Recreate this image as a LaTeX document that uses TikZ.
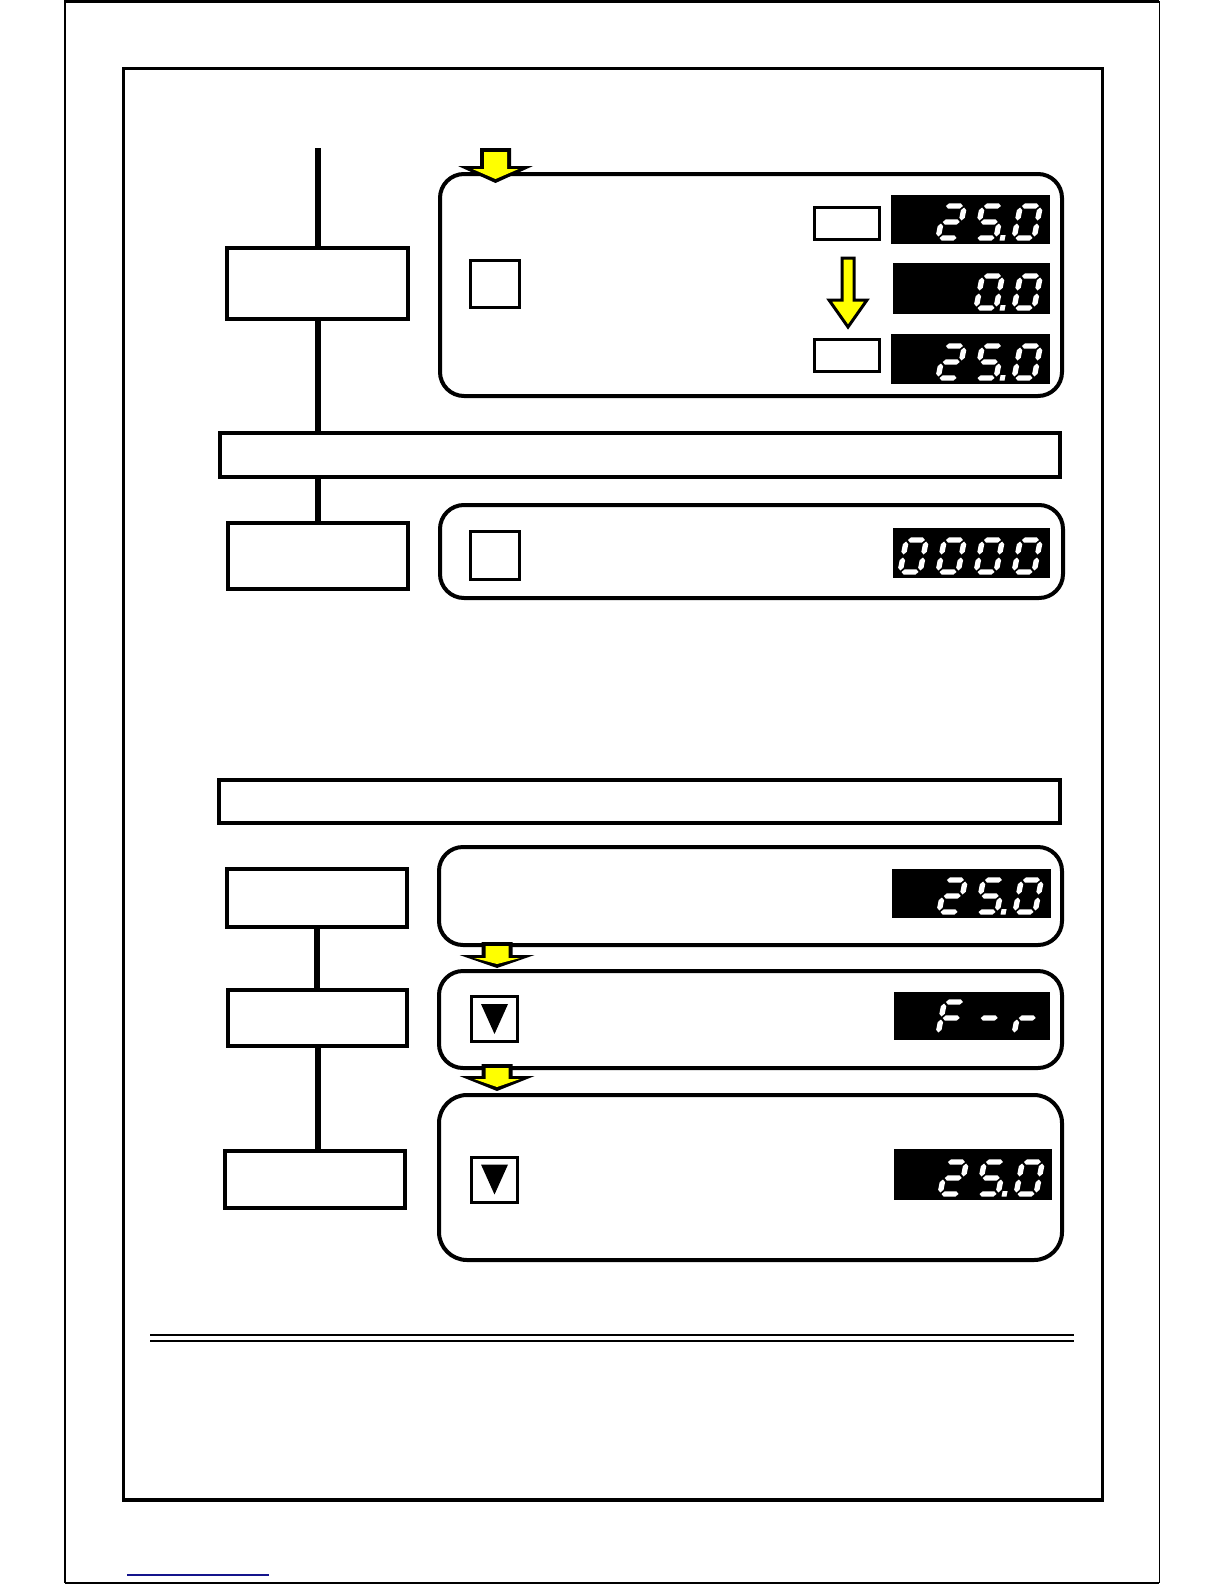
\documentclass[tikz,border=0pt]{standalone}
\definecolor{arrowyellow}{RGB}{255,255,0}
\definecolor{linkblue}{RGB}{20,20,140}
\tikzset{
  stepbox/.style={draw, line width=2pt, rectangle, inner sep=0pt, outer sep=0pt, fill=white},
  panel/.style={draw, line width=2pt, rectangle, rounded corners=12pt, inner sep=0pt, outer sep=0pt},
  keybox/.style={draw, line width=1.5pt, rectangle, inner sep=0pt, outer sep=0pt},
  ledbox/.style={fill=black, rectangle, inner sep=0pt, outer sep=0pt},
  conn/.style={line width=3pt},
  yarrow/.style={fill=arrowyellow, draw=black, line width=1.5pt, line join=miter},
}
% seven-segment helpers (pixel units, v downwards)
\newcommand\hsg[1]{\fill[white] (1.5,#1) -- (4.2,#1-2.7) -- (15.8,#1-2.7) -- (18.5,#1) -- (15.8,#1+2.7) -- (4.2,#1+2.7) -- cycle;}
\newcommand\vsg[3]{\fill[white] (#1,#2+1.5) -- (#1+2.7,#2+4.2) -- (#1+2.7,#3-4.2) -- (#1,#3-1.5) -- (#1-2.7,#3-4.2) -- (#1-2.7,#2+4.2) -- cycle;}
\newcommand\segma{\hsg{-32}}
\newcommand\segmg{\hsg{-16}}
\newcommand\segmd{\hsg{0}}
\newcommand\segmf{\vsg{0}{-32}{-16}}
\newcommand\segmb{\vsg{20}{-32}{-16}}
\newcommand\segme{\vsg{0}{-16}{0}}
\newcommand\segmc{\vsg{20}{-16}{0}}
\newcommand\segmp{\fill[white] (24,-3) rectangle (29,2.5);}
\newcommand\segmx{}
\newcommand\sdigit[3]{%
  \begin{scope}[shift={(#1,#2)}, xslant=0.2]
    \foreach \s in {#3}{\csname segm\s\endcsname}
  \end{scope}}
\newcommand\leddigits[5]{%
  \begin{scope}[shift={(#1.south east)}]
    \sdigit{-150}{-6}{#2}\sdigit{-112}{-6}{#3}\sdigit{-74}{-6}{#4}\sdigit{-36}{-6}{#5}
  \end{scope}}
% wide yellow block arrow with black rim: x, top, base, tip
\newcommand\yarrb[4]{%
  \fill[black] (#1-15.5,#2) -- (#1+15.5,#2) -- (#1+15.5,#3) -- (#1+37.5,#3) -- (#1,#4) -- (#1-37.5,#3) -- (#1-15.5,#3) -- cycle;
  \fill[arrowyellow] (#1-11.5,#2+4) -- (#1+11.5,#2+4) -- (#1+11.5,#3+3) -- (#1+23,#3+3) -- (#1,#4-4) -- (#1-23,#3+3) -- (#1-11.5,#3+3) -- cycle;}
% slim yellow block arrow: x, top, base, tip, half shaft, half head
\newcommand\yarr[6]{\draw[yarrow] (#1-#5,#2) -- (#1+#5,#2) -- (#1+#5,#3) -- (#1+#6,#3) -- (#1,#4) -- (#1-#6,#3) -- (#1-#5,#3) -- cycle;}
\begin{document}
\begin{tikzpicture}[x=0.5pt,y=-0.5pt]
\useasboundingbox (0,0) rectangle (1224,1584);
% page frame
\draw[line width=1.2pt] (65,1583) -- (65,1.5) -- (1159,1.5);
\draw[line width=0.5pt] (1159,1.5) -- (1159,1583);
\draw[line width=1pt] (65,1583) -- (1159,1583);
% inner frame
\draw[line width=1.5pt] (123,69) rectangle (1102,1500);
\draw[line width=2.2pt] (123,1500) -- (1102,1500);

% ---------- top section ----------
\node[stepbox, minimum width=90.5pt, minimum height=35.5pt] (b1) at (317.5,283.5) {};
\node[stepbox, minimum width=420pt, minimum height=22pt] (bar1) at (640,455) {};
\node[stepbox, minimum width=90pt, minimum height=33pt] (b2) at (318,556) {};

\node[panel, minimum width=311pt, minimum height=111pt] (p1) at (751,285) {};
\node[panel, minimum width=311.5pt, minimum height=46.5pt] (p2) at (751.5,551.5) {};

\node[keybox, minimum width=24.5pt, minimum height=23.5pt] (k1) at (495,284) {};
\node[keybox, minimum width=24.5pt, minimum height=24pt] (k2) at (495,555.5) {};
\node[keybox, minimum width=32.5pt, minimum height=16pt] (s1) at (847,223.5) {};
\node[keybox, minimum width=32.5pt, minimum height=16pt] (s2) at (847,355.5) {};

\node[ledbox, minimum width=79.5pt, minimum height=24.5pt] (L1) at (970.5,219.5) {};
\node[ledbox, minimum width=78.5pt, minimum height=25.5pt] (L2) at (971.5,288.5) {};
\node[ledbox, minimum width=79.5pt, minimum height=25pt] (L3) at (970.5,359) {};
\node[ledbox, minimum width=78.5pt, minimum height=25pt] (L4) at (971.5,553) {};

\leddigits{L1}{x}{a,b,g,e,d}{a,f,g,c,d,p}{a,b,c,d,e,f}
\leddigits{L2}{x}{x}{a,b,c,d,e,f,p}{a,b,c,d,e,f}
\leddigits{L3}{x}{a,b,g,e,d}{a,f,g,c,d,p}{a,b,c,d,e,f}
\leddigits{L4}{a,b,c,d,e,f}{a,b,c,d,e,f}{a,b,c,d,e,f}{a,b,c,d,e,f}

\coordinate (start) at (317.5,148);
\draw[conn] (start) -- (b1.north);
\draw[conn] (b1.south) -- (b1.south |- bar1.north);
\draw[conn] (b2.north |- bar1.south) -- (b2.north);

\yarrb{495.5}{148}{166}{183}
\yarr{848}{258}{300}{327}{6}{19}

% ---------- bottom section ----------
\node[stepbox, minimum width=420.5pt, minimum height=21.5pt] (bar2) at (639.5,801.5) {};
\node[stepbox, minimum width=90pt, minimum height=29pt] (b3) at (317,898) {};
\node[stepbox, minimum width=89.5pt, minimum height=28pt] (b4) at (317.5,1018) {};
\node[stepbox, minimum width=90pt, minimum height=28.5pt] (b5) at (315,1179.5) {};

\node[panel, minimum width=311.5pt, minimum height=49pt] (p3) at (750.5,896) {};
\node[panel, minimum width=311.5pt, minimum height=48.5pt] (p4) at (750.5,1019.5) {};
\node[panel, rounded corners=14pt, minimum width=311.5pt, minimum height=82.5pt] (p5) at (750.5,1177.5) {};

\node[keybox, minimum width=23pt, minimum height=22.5pt] (k4) at (494.5,1019) {};
\node[keybox, minimum width=23pt, minimum height=22.5pt] (k5) at (494.5,1179.5) {};
\begin{scope}[shift={(k4.center)}]
  \fill (-13.5,-15) -- (13.5,-15) -- (0,15) -- cycle;
\end{scope}
\begin{scope}[shift={(k5.center)}]
  \fill (-13.5,-15) -- (13.5,-15) -- (0,15) -- cycle;
\end{scope}

\node[ledbox, minimum width=79.5pt, minimum height=24.5pt] (L5) at (971.5,893.5) {};
\node[ledbox, minimum width=78pt, minimum height=24pt] (L6) at (972,1016) {};
\node[ledbox, minimum width=79pt, minimum height=25.5pt] (L7) at (973,1174.5) {};

\leddigits{L5}{x}{a,b,g,e,d}{a,f,g,c,d,p}{a,b,c,d,e,f}
\leddigits{L6}{x}{a,f,g,e}{g}{e,g}
\leddigits{L7}{x}{a,b,g,e,d}{a,f,g,c,d,p}{a,b,c,d,e,f}

\draw[conn] (b3.south) -- (b3.south |- b4.north);
\draw[conn] (b4.south) -- (b4.south |- b5.north);

\yarrb{497}{942}{955}{968}
\yarrb{497}{1064}{1076}{1091}

% double rule
\draw[line width=1pt] (150,1335) -- (1074,1335);
\draw[line width=1pt] (150,1341) -- (1074,1341);
% link underline
\draw[linkblue, line width=0.8pt] (127,1575) -- (269,1575);
\end{tikzpicture}
\end{document}
